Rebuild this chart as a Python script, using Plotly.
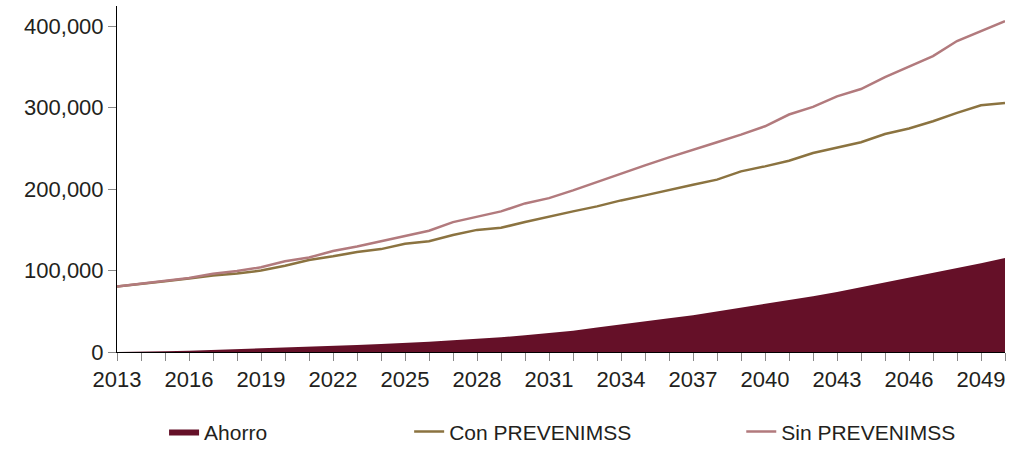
import plotly.graph_objects as go

# ahorro / gasto con y sin PREVENIMSS, 2013-2050
years = list(range(2013, 2051))
sin_prevenimss = [80400, 84000, 87500, 90800, 96000, 99500, 104000, 111500, 116000, 124000,
                  129500, 136000, 143000, 149000, 159500, 165700, 172700, 182500, 189000, 198500,
                  208800, 219900, 229300, 239000, 248000, 257600, 267000, 277300, 291700, 301000,
                  314000, 323000, 337600, 351000, 363500, 382000, 394000, 406500]
con_prevenimss = [80400, 84000, 87000, 90200, 94000, 96500, 100000, 106000, 113000, 117500,
                  122700, 126400, 133000, 136000, 143600, 150000, 152600, 159600, 166600, 172700,
                  178900, 186200, 192400, 198500, 205500, 211700, 221900, 228000, 235000, 244500,
                  251500, 257600, 267800, 274500, 283400, 293700, 303000, 306000]
ahorro = [0, 200, 800, 1600, 2500, 3300, 4100, 5300, 6200, 7400,
          8600, 9800, 11000, 12700, 14400, 16000, 18000, 20500, 23000, 26200,
          30000, 34000, 37700, 41400, 45000, 49600, 54000, 58600, 63200, 68500,
          73800, 79600, 84900, 91000, 96800, 102500, 109000, 115600]
tick_labels = [str(y) if (y - 2013) % 3 == 0 else "" for y in years]

c_ahorro = "rgb(101,16,40)"
c_con = "rgb(139,115,64)"
c_sin = "rgb(178,122,125)"
txt = "#231F20"
fnt = "Liberation Sans, Arial, sans-serif"

fig = go.Figure()
fig.add_trace(go.Scatter(x=years, y=ahorro, name="Ahorro", mode="lines",
                         fill="tozeroy", fillcolor=c_ahorro,
                         line=dict(color=c_ahorro, width=0), legend="legend"))
fig.add_trace(go.Scatter(x=years, y=con_prevenimss, name="Con PREVENIMSS", mode="lines",
                         line=dict(color=c_con, width=2.5), legend="legend2"))
fig.add_trace(go.Scatter(x=years, y=sin_prevenimss, name="Sin PREVENIMSS", mode="lines",
                         line=dict(color=c_sin, width=2.5), legend="legend3"))

# legends kept inside the bottom margin so they don't push it
leg = dict(orientation="h", yanchor="bottom", xanchor="left", y=-0.29,
           bgcolor="rgba(0,0,0,0)", font=dict(size=21, color=txt, family=fnt))

fig.update_layout(
    width=1010, height=457,
    margin=dict(l=117, r=5, t=6, b=105),
    plot_bgcolor="white", paper_bgcolor="white",
    font=dict(family=fnt, size=22, color=txt),
    showlegend=True,
    legend=dict(leg, x=0.053),
    legend2=dict(leg, x=0.329),
    legend3=dict(leg, x=0.703),
    xaxis=dict(range=[2013, 2050], tickmode="array", tickvals=years, ticktext=tick_labels,
               showgrid=False, zeroline=False, showline=True, linecolor="black", linewidth=1,
               ticks="outside", ticklen=8, tickcolor="#888", tickangle=0,
               ticklabeloverflow="allow", automargin=False,
               tickfont=dict(size=22, color=txt)),
    yaxis=dict(range=[0, 425000], tickvals=[0, 100000, 200000, 300000, 400000],
               tickformat=",", showgrid=False, zeroline=False, showline=True,
               linecolor="black", linewidth=1, ticks="outside", ticklen=8, tickcolor="#888",
               automargin=False, tickfont=dict(size=22, color=txt)),
)

# page body has a default 8px margin; drop it so the figure sits at the corner
fig.write_html("out.html", config={"displayModeBar": False},
               post_script="document.body.style.margin='0';")
